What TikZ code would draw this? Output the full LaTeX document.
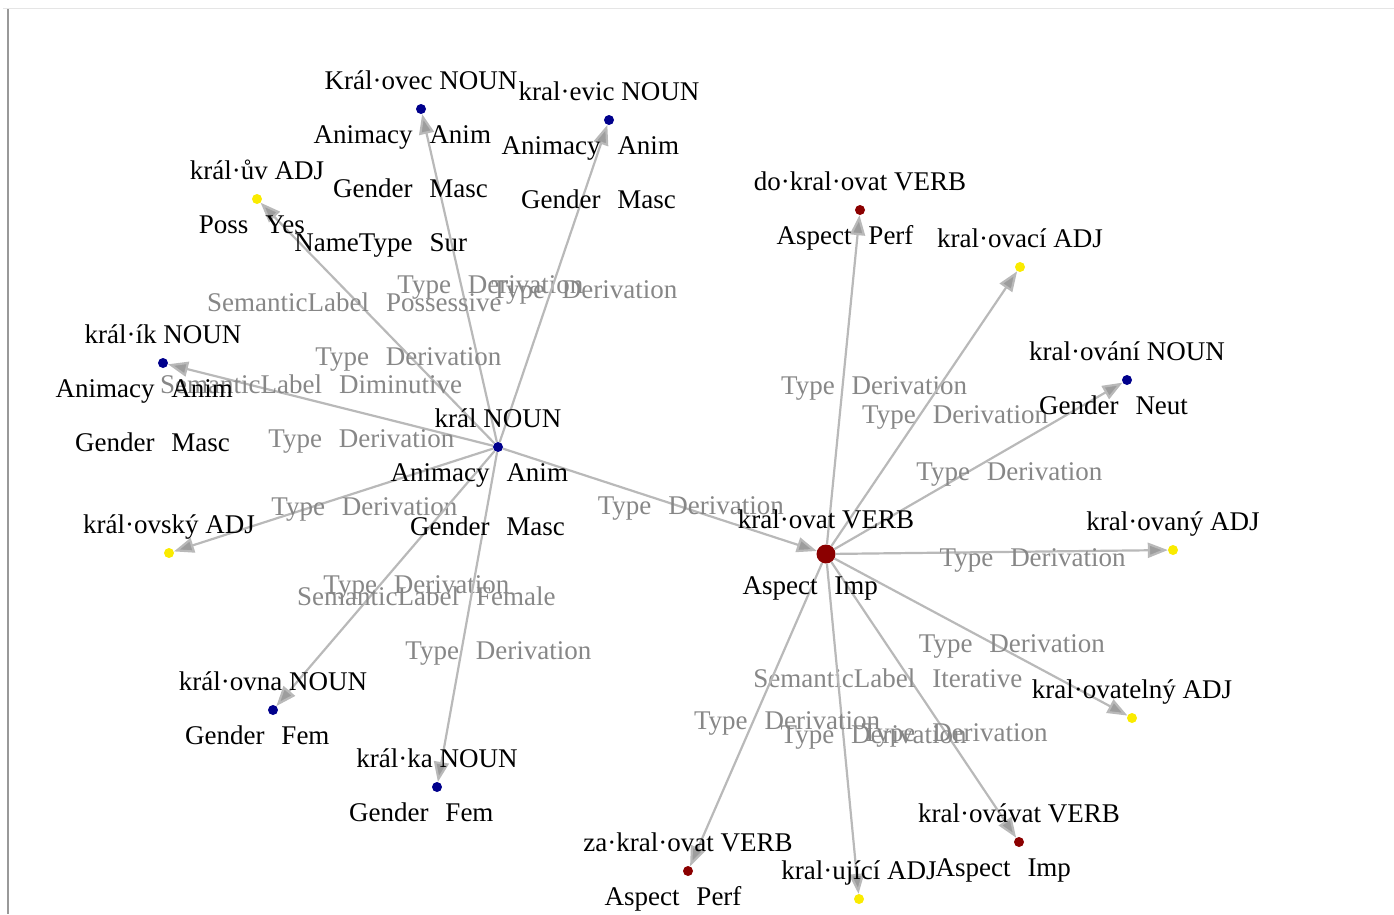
\documentclass[tikz,border=0pt]{standalone}
\usepackage{fontspec}
\setmainfont{Liberation Serif}
\usetikzlibrary{arrows.meta}

\definecolor{nounblue}{RGB}{0,0,140}
\definecolor{adjyellow}{RGB}{250,235,0}
\definecolor{verbred}{RGB}{139,0,0}
\definecolor{edgegray}{RGB}{185,185,185}
\definecolor{labelgray}{RGB}{135,135,135}

% key and value on both sides of the node's x
\newcommand{\kv}[2]{\makebox[0pt][r]{#1\hspace{8.5pt}}\makebox[0pt][l]{\hspace{8.5pt}#2}}

\tikzset{
  dot/.style={circle, inner sep=0pt, minimum size=10pt},
  word/.style={anchor=base, inner sep=0pt, font=\fontsize{27}{32}\selectfont},
  feat/.style={word},
  elab/.style={word, text=labelgray},
  deriv/.style={draw=edgegray, line width=2.2pt, -{Triangle[length=20pt,width=15pt,fill=edgegray!85!black]}},
}

\begin{document}
\begin{tikzpicture}[x=1pt, y=-1pt]
  \useasboundingbox (0,0) rectangle (1394,914);
  \draw[gray!20, line width=1.5pt] (3,8.5) -- (1394,8.5);
  \draw[gray!80, line width=2pt] (7.5,9) -- (7.5,914);

  % lemmas
  \node[dot, fill=nounblue] (kral) at (498,447) {};
  \node[dot, fill=nounblue] (kralovec) at (421,109) {};
  \node[dot, fill=nounblue] (kralevic) at (609,120) {};
  \node[dot, fill=adjyellow] (kraluv) at (257,199) {};
  \node[dot, fill=nounblue] (kralik) at (163,363) {};
  \node[dot, fill=adjyellow] (kralovsky) at (169,553) {};
  \node[dot, fill=nounblue] (kralovna) at (273,710) {};
  \node[dot, fill=nounblue] (kralka) at (437,787) {};
  \node[dot, fill=verbred, minimum size=19pt] (kralovat) at (826,554) {};
  \node[dot, fill=verbred] (dokralovat) at (860,210) {};
  \node[dot, fill=adjyellow] (kralovaci) at (1020,267) {};
  \node[dot, fill=nounblue] (kralovani) at (1127,380) {};
  \node[dot, fill=adjyellow] (kralovany) at (1173,550) {};
  \node[dot, fill=adjyellow] (kralovatelny) at (1132,718) {};
  \node[dot, fill=verbred] (kralovavat) at (1019,842) {};
  \node[dot, fill=adjyellow] (kralujici) at (859,899) {};
  \node[dot, fill=verbred] (zakralovat) at (688,871) {};

  % derivations
  \draw[deriv] (kral) -- (kralovec) node[elab, midway, yshift=-15pt] (e-kralovec) {\kv{Type}{Derivation}};
  \draw[deriv] (kral) -- (kralevic) node[elab, midway, yshift=-15pt] (e-kralevic) {\kv{Type}{Derivation}};
  \draw[deriv] (kral) -- (kraluv)
    node[elab, midway, yshift=12pt] (e-kraluv-a) {\kv{SemanticLabel}{Possessive}}
    node[elab, midway, yshift=-42pt] (e-kraluv-b) {\kv{Type}{Derivation}};
  \draw[deriv] (kral) -- (kralik)
    node[elab, midway, yshift=12pt] (e-kralik-a) {\kv{SemanticLabel}{Diminutive}}
    node[elab, midway, yshift=-42pt] (e-kralik-b) {\kv{Type}{Derivation}};
  \draw[deriv] (kral) -- (kralovsky) node[elab, midway, yshift=-15pt] (e-kralovsky) {\kv{Type}{Derivation}};
  \draw[deriv] (kral) -- (kralovna) node[elab, midway, yshift=-15pt] (e-kralovna) {\kv{Type}{Derivation}};
  \draw[deriv] (kral) -- (kralka)
    node[elab, midway, yshift=12pt] (e-kralka-a) {\kv{SemanticLabel}{Female}}
    node[elab, midway, yshift=-42pt] (e-kralka-b) {\kv{Type}{Derivation}};
  \draw[deriv] (kral) -- (kralovat) node[elab, midway, yshift=-15pt] (e-kralovat) {\kv{Type}{Derivation}};
  \draw[deriv] (kralovat) -- (dokralovat) node[elab, midway, yshift=-15pt] (e-dokralovat) {\kv{Type}{Derivation}};
  \draw[deriv] (kralovat) -- (kralovaci) node[elab, midway, yshift=-15pt] (e-kralovaci) {\kv{Type}{Derivation}};
  \draw[deriv] (kralovat) -- (kralovani) node[elab, midway, yshift=-15pt] (e-kralovani) {\kv{Type}{Derivation}};
  \draw[deriv] (kralovat) -- (kralovany) node[elab, midway, yshift=-15pt] (e-kralovany) {\kv{Type}{Derivation}};
  \draw[deriv] (kralovat) -- (kralovatelny) node[elab, midway, yshift=-15pt] (e-kralovatelny) {\kv{Type}{Derivation}};
  \draw[deriv] (kralovat) -- (kralovavat)
    node[elab, midway, yshift=12pt] (e-kralovavat-a) {\kv{SemanticLabel}{Iterative}}
    node[elab, midway, yshift=-42pt] (e-kralovavat-b) {\kv{Type}{Derivation}};
  \draw[deriv] (kralovat) -- (kralujici) node[elab, midway, yshift=-15pt] (e-kralujici) {\kv{Type}{Derivation}};
  \draw[deriv] (kralovat) -- (zakralovat) node[elab, midway, yshift=-15pt] (e-zakralovat) {\kv{Type}{Derivation}};

  % names and features
  \node[word] (kral-name) at (498,427) {král NOUN};
  \node[feat] (kral-f1) at (498,481) {\kv{Animacy}{Anim}};
  \node[feat] (kral-f2) at (498,535) {\kv{Gender}{Masc}};

  \node[word] (kralovec-name) at (421,89) {Král·ovec NOUN};
  \node[feat] (kralovec-f1) at (421,143) {\kv{Animacy}{Anim}};
  \node[feat] (kralovec-f2) at (421,197) {\kv{Gender}{Masc}};
  \node[feat] (kralovec-f3) at (421,251) {\kv{NameType}{Sur}};

  \node[word] (kralevic-name) at (609,100) {kral·evic NOUN};
  \node[feat] (kralevic-f1) at (609,154) {\kv{Animacy}{Anim}};
  \node[feat] (kralevic-f2) at (609,208) {\kv{Gender}{Masc}};

  \node[word] (kraluv-name) at (257,179) {král·ův ADJ};
  \node[feat] (kraluv-f1) at (257,233) {\kv{Poss}{Yes}};

  \node[word] (kralik-name) at (163,343) {král·ík NOUN};
  \node[feat] (kralik-f1) at (163,397) {\kv{Animacy}{Anim}};
  \node[feat] (kralik-f2) at (163,451) {\kv{Gender}{Masc}};

  \node[word] (kralovsky-name) at (169,533) {král·ovský ADJ};

  \node[word] (kralovna-name) at (273,690) {král·ovna NOUN};
  \node[feat] (kralovna-f1) at (273,744) {\kv{Gender}{Fem}};

  \node[word] (kralka-name) at (437,767) {král·ka NOUN};
  \node[feat] (kralka-f1) at (437,821) {\kv{Gender}{Fem}};

  \node[word] (kralovat-name) at (826,528) {kral·ovat VERB};
  \node[feat] (kralovat-f1) at (826,594) {\kv{Aspect}{Imp}};

  \node[word] (dokralovat-name) at (860,190) {do·kral·ovat VERB};
  \node[feat] (dokralovat-f1) at (860,244) {\kv{Aspect}{Perf}};

  \node[word] (kralovaci-name) at (1020,247) {kral·ovací ADJ};

  \node[word] (kralovani-name) at (1127,360) {kral·ování NOUN};
  \node[feat] (kralovani-f1) at (1127,414) {\kv{Gender}{Neut}};

  \node[word] (kralovany-name) at (1173,530) {kral·ovaný ADJ};

  \node[word] (kralovatelny-name) at (1132,698) {kral·ovatelný ADJ};

  \node[word] (kralovavat-name) at (1019,822) {kral·ovávat VERB};
  \node[feat] (kralovavat-f1) at (1019,876) {\kv{Aspect}{Imp}};

  \node[word] (kralujici-name) at (859,879) {kral·ující ADJ};

  \node[word] (zakralovat-name) at (688,851) {za·kral·ovat VERB};
  \node[feat] (zakralovat-f1) at (688,905) {\kv{Aspect}{Perf}};
\end{tikzpicture}
\end{document}
